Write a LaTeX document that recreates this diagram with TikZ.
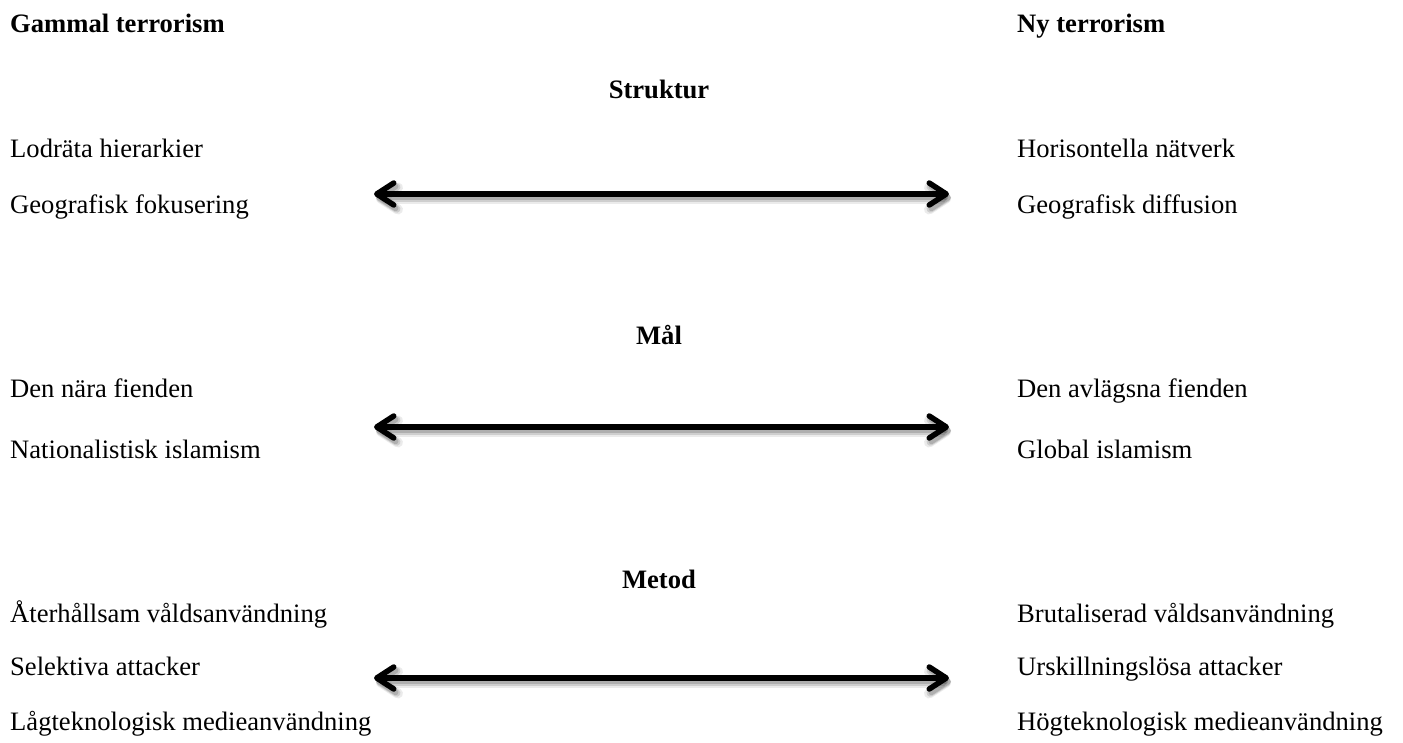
\documentclass[tikz,border=0pt]{standalone}
\usepackage{fontspec}
\setmainfont{Liberation Serif}
\usetikzlibrary{arrows.meta}
\tikzset{
  txt/.style={anchor=base west, inner sep=0pt, font=\fontsize{26.6}{30}\selectfont},
  head/.style={txt, font=\fontsize{26.6}{30}\selectfont\bfseries},
  cat/.style={anchor=base, inner sep=0pt, font=\fontsize{26.6}{30}\selectfont\bfseries},
  dbl/.style={line width=5.5pt, line cap=round,
    {Straight Barb[length=17pt, width=22pt, round]}-{Straight Barb[length=17pt, width=22pt, round]}},
  shad/.style={dbl, draw=black, draw opacity=#1},
}
\begin{document}
\begin{tikzpicture}[x=1pt,y=-1pt]
\useasboundingbox (0,0) rectangle (1403,742);
% headers
\node[head] (old) at (10,32) {Gammal terrorism};
\node[head] (new) at (1017,32) {Ny terrorism};
% Struktur
\node[cat] (struk) at (659,98) {Struktur};
\node[txt] (l1) at (10,157) {Lodräta hierarkier};
\node[txt] (l2) at (10,213) {Geografisk fokusering};
\node[txt] (r1) at (1017,157) {Horisontella nätverk};
\node[txt] (r2) at (1017,213) {Geografisk diffusion};
% Mål
\node[cat] (mal) at (659,344) {Mål};
\node[txt] (l3) at (10,397) {Den nära fienden};
\node[txt] (l4) at (10,458) {Nationalistisk islamism};
\node[txt] (r3) at (1017,397) {Den avlägsna fienden};
\node[txt] (r4) at (1017,458) {Global islamism};
% Metod
\node[cat] (met) at (659,588) {Metod};
\node[txt] (l5) at (10,622) {Återhållsam våldsanvändning};
\node[txt] (l6) at (10,675) {Selektiva attacker};
\node[txt] (l7) at (10,730) {Lågteknologisk medieanvändning};
\node[txt] (r5) at (1017,622) {Brutaliserad våldsanvändning};
\node[txt] (r6) at (1017,675) {Urskillningslösa attacker};
\node[txt] (r7) at (1017,730) {Högteknologisk medieanvändning};
% arrow ends
\coordinate (a1L) at (374,194); \coordinate (a1R) at (949,194);
\coordinate (a2L) at (374,427); \coordinate (a2R) at (949,427);
\coordinate (a3L) at (374,678); \coordinate (a3R) at (949,678);
% shadows
\foreach \p in {1,2,3}{
  \draw[shad=0.08, line width=10pt] ([shift={(2,4.5)}]a\p L) -- ([shift={(2,4.5)}]a\p R);
  \draw[shad=0.12, line width=7.5pt] ([shift={(2,4)}]a\p L) -- ([shift={(2,4)}]a\p R);
  \draw[shad=0.15, line width=5.5pt] ([shift={(2,3.5)}]a\p L) -- ([shift={(2,3.5)}]a\p R);
}
% arrows
\draw[dbl] (a1L) -- (a1R);
\draw[dbl] (a2L) -- (a2R);
\draw[dbl] (a3L) -- (a3R);
\end{tikzpicture}
\end{document}
